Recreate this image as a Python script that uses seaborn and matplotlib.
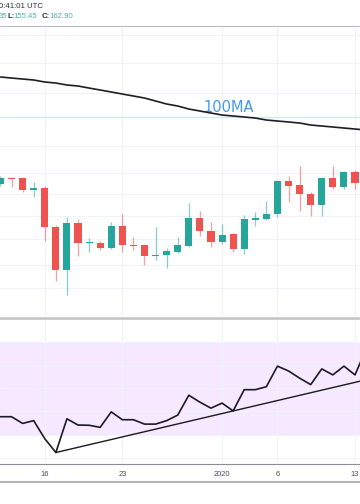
"""Daily candles with 100MA and an RSI pane, TradingView style."""

import matplotlib

matplotlib.use("Agg")
import matplotlib.pyplot as plt
from matplotlib.lines import Line2D
import numpy as np
import pandas as pd
import seaborn as sns

# ---- data -------------------------------------------------------------
dates = pd.date_range("2019-12-12", "2020-01-14", freq="D")

opens = [143.99, 145.50, 145.50, 142.48, 142.98, 133.16, 122.32, 134.16, 129.12, 129.12,
         127.86, 133.41, 128.62, 128.62, 125.85, 126.10, 126.86, 128.37, 135.42, 132.15,
         129.38, 131.39, 127.61, 135.05, 135.17, 136.43, 144.75, 143.74, 141.47, 138.70,
         145.50, 143.24, 147.02, 144.24]
highs = [146.01, 145.76, 145.76, 144.50, 143.49, 133.66, 135.68, 135.17, 130.38, 129.63,
         134.42, 136.43, 130.64, 128.87, 133.16, 127.86, 130.64, 139.20, 137.19, 134.42,
         133.91, 131.64, 136.18, 136.94, 139.71, 145.00, 146.01, 148.53, 141.98, 145.76,
         148.53, 147.27, 147.52, 165.00]
lows = [143.49, 143.24, 141.98, 140.72, 129.63, 119.55, 116.02, 125.85, 126.86, 127.36,
        127.61, 126.86, 127.36, 123.58, 124.84, 122.82, 126.60, 128.12, 130.89, 128.12,
        128.87, 126.86, 126.35, 133.41, 134.92, 135.68, 139.46, 137.19, 135.93, 135.93,
        142.73, 142.73, 142.73, 143.00]
closes = [145.50, 145.25, 142.48, 142.98, 133.16, 122.32, 134.16, 129.12, 129.38, 127.86,
          133.41, 128.62, 128.37, 125.85, 126.10, 127.11, 128.62, 135.42, 132.15, 129.38,
          131.14, 127.61, 135.17, 135.17, 136.43, 144.75, 143.49, 141.47, 138.70, 145.50,
          143.24, 147.02, 144.24, 162.90]

ma100 = [170.96, 170.70, 170.45, 170.20, 169.70, 169.44, 168.94, 168.69, 168.18, 167.68,
         167.18, 166.67, 166.17, 165.66, 164.91, 164.15, 163.65, 162.89, 162.39, 161.88,
         161.38, 161.13, 160.88, 160.62, 160.12, 159.87, 159.62, 159.36, 158.86, 158.61,
         158.36, 158.10, 157.85, 157.60]

rsi = [37.7, 37.7, 34.8, 36.0, 28.2, 22.2, 36.8, 34.1, 34.0, 33.1,
       39.8, 36.4, 36.4, 34.5, 34.5, 36.0, 38.4, 47.0, 44.0, 41.4,
       43.6, 40.2, 49.4, 49.4, 50.7, 59.6, 57.5, 54.4, 51.6, 58.4,
       55.8, 59.6, 55.8, 67.0]

# RSI trend line anchors
trend_dates = ["2019-12-17", "2020-01-02"]
trend_values = [22.2, 40.2]

hline_level = 160.88

tick_dates = ["2019-12-16", "2019-12-23", "2020-01-01", "2020-01-06", "2020-01-13"]
tick_labels = ["16", "23", "2020", "6", "13"]
price_grid = [181.54, 174.48, 166.92, 153.57, 146.76, 141.47, 135.93, 130.13, 123.58, 117.78]
rsi_grid = [20, 30, 40, 50, 60, 70, 80]

# ---- style ------------------------------------------------------------
sns.set_style("white")
plt.rcParams["font.family"] = ["Liberation Sans", "DejaVu Sans"]

GREEN = "#26a69a"
RED = "#ef5350"
GRID = "#f0f3f8"

W, H = 360, 504
fig = plt.figure(figsize=(W / 100, H / 100), dpi=100)

# pixel-based layout
ax = fig.add_axes([0, 1 - 317 / H, 1, 290 / H])
ax_rsi = fig.add_axes([0, 1 - 464 / H, 1, 145 / H])

x_left = dates[0] - pd.Timedelta(days=0.04)
x_right = dates[0] + pd.Timedelta(days=32.45)

# ---- price pane -------------------------------------------------------
o = np.array(opens)
c = np.array(closes)
colors = [GREEN if cc >= oo else RED for oo, cc in zip(o, c)]

ax.vlines(dates, lows, highs, colors=colors, lw=0.9, alpha=0.55, zorder=2)
body_h = np.maximum(np.abs(c - o), 0.3)
ax.bar(dates, body_h, bottom=np.minimum(o, c), width=0.64, color=colors,
       linewidth=0, zorder=3)

sns.lineplot(x=dates, y=ma100, ax=ax, color="#1e1e24", lw=1.2, zorder=4)
ax.axhline(hline_level, color="#cfe9ef", lw=0.9, zorder=1)

ax.text(203 / W, (317 - 108) / 290, "100MA", transform=ax.transAxes,
        color="#4599ec", fontsize=10.5, ha="left", va="center",
        family=["DejaVu Sans"])

ax.set_xlim(x_left, x_right)
ax.set_ylim(110.48, 183.56)
ax.set_xticks(pd.to_datetime(tick_dates))
ax.set_yticks(price_grid)
ax.tick_params(length=0, labelbottom=False, labelleft=False)
ax.grid(True, color=GRID, lw=0.8)
for s in ax.spines.values():
    s.set_visible(False)
ax.set_xlabel("")
ax.set_ylabel("")

# ---- RSI pane ---------------------------------------------------------
ax_rsi.axhspan(30, 70, color="#f5e8ff", lw=0, zorder=0)
sns.lineplot(x=dates, y=rsi, ax=ax_rsi, color="#1c1a24", lw=1.2, zorder=4)

t0 = pd.Timestamp(trend_dates[0])
t1 = pd.Timestamp(trend_dates[1])
slope = (trend_values[1] - trend_values[0]) / (t1 - t0).days
t_end = dates[-1] + pd.Timedelta(days=1)
trend_y = [trend_values[0], trend_values[0] + slope * (t_end - t0).days]
ax_rsi.plot([t0, t_end], trend_y, color="#1a1a1a", lw=1.0, zorder=5)

ax_rsi.set_xlim(x_left, x_right)
ax_rsi.set_ylim(17.23, 78.94)
ax_rsi.set_xticks(pd.to_datetime(tick_dates))
ax_rsi.set_xticklabels(tick_labels)
ax_rsi.set_yticks(rsi_grid)
ax_rsi.tick_params(axis="x", length=0, pad=5.2, labelsize=5.4, labelcolor="#4a4d57")
ax_rsi.tick_params(axis="y", length=0, labelleft=False)
ax_rsi.grid(True, color=GRID, lw=0.8, zorder=1)
ax_rsi.set_axisbelow(False)
for name, s in ax_rsi.spines.items():
    s.set_visible(name == "bottom")
ax_rsi.spines["bottom"].set_color("#8a8d96")
ax_rsi.spines["bottom"].set_linewidth(0.8)
ax_rsi.set_xlabel("")
ax_rsi.set_ylabel("")

# ---- separators and header -------------------------------------------
for y_px, col, lw in [(26, "#b8bbc2", 0.8), (318, "#c4c4c4", 1.8), (482, "#b4b4b4", 1.5)]:
    fig.add_artist(Line2D([0, 1], [1 - y_px / H] * 2, color=col, lw=lw,
                          transform=fig.transFigure))

dark = "#2a2e39"
teal = "#4fb3aa"
fig.text(-1 / W, 1 - 7 / H, "0:41:01 UTC", color=dark, fontsize=5.6, va="center")
header = [(-1, "35", teal, "normal"), (7, "L:", dark, "bold"), (13.5, "155.45", teal, "normal"),
          (42, "C:", dark, "bold"), (49, "162.90", teal, "normal")]
for x_px, txt, col, wt in header:
    fig.text(x_px / W, 1 - 17 / H, txt, color=col, fontsize=5.6, va="center", weight=wt)

fig.savefig("out.png", dpi=100)
plt.close(fig)
